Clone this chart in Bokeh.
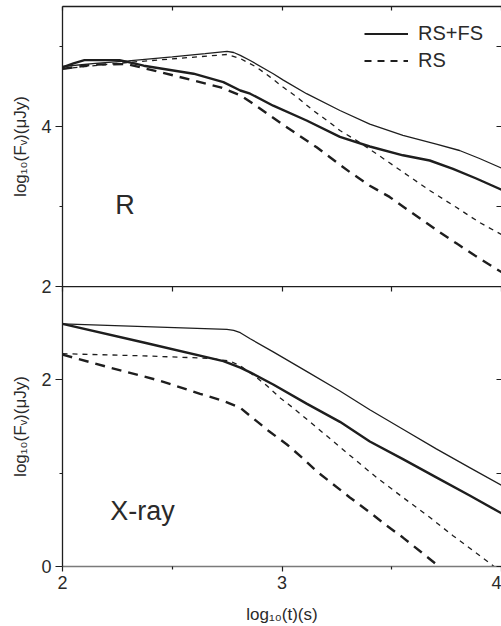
from bokeh.plotting import figure
from bokeh.models import Range1d, FixedTicker, LinearAxis, Label, Legend, LegendItem
from bokeh.layouts import column
from bokeh.embed import file_html
from bokeh.resources import INLINE

# ---------------- data ----------------
# R band, RS+FS (thin and thick solid)
r_rsfs_thin_x = [2.0, 2.15, 2.3, 2.5, 2.65, 2.75, 2.78, 2.81, 2.855, 2.96, 3.006, 3.112, 3.264, 3.4, 3.551, 3.703, 3.809, 3.9, 4.0]
r_rsfs_thin_y = [4.75, 4.79, 4.82, 4.87, 4.91, 4.94, 4.925, 4.89, 4.825, 4.66, 4.58, 4.41, 4.20, 4.03, 3.89, 3.78, 3.70, 3.60, 3.48]
r_rsfs_thick_x = [2.0, 2.05, 2.1, 2.26, 2.37, 2.597, 2.733, 2.81, 2.855, 2.96, 3.112, 3.264, 3.4, 3.551, 3.673, 3.779, 3.885, 4.0]
r_rsfs_thick_y = [4.74, 4.79, 4.83, 4.83, 4.76, 4.66, 4.555, 4.45, 4.41, 4.26, 4.075, 3.87, 3.75, 3.64, 3.575, 3.47, 3.35, 3.21]
# R band, RS only (thin and thick dashed)
r_rs_thin_x = [2.0, 2.294, 2.749, 2.81, 2.885, 2.945, 3.006, 3.067, 3.142, 3.218, 3.264, 3.34, 3.43, 3.551, 3.673, 3.794, 3.9, 4.0]
r_rs_thin_y = [4.72, 4.80, 4.90, 4.85, 4.74, 4.62, 4.49, 4.37, 4.20, 4.05, 3.95, 3.825, 3.66, 3.43, 3.20, 2.99, 2.80, 2.65]
r_rs_thick_x = [2.0, 2.14, 2.294, 2.445, 2.597, 2.72, 2.81, 2.855, 3.006, 3.158, 3.309, 3.4, 3.49, 3.567, 3.643, 3.718, 3.8, 3.877, 3.953, 4.0]
r_rs_thick_y = [4.72, 4.775, 4.78, 4.68, 4.575, 4.49, 4.39, 4.31, 4.02, 3.74, 3.43, 3.26, 3.12, 2.97, 2.825, 2.68, 2.53, 2.39, 2.26, 2.18]

# X-ray, RS+FS (thin and thick solid)
x_rsfs_thin_x = [2.0, 2.749, 2.78, 2.81, 2.855, 2.96, 3.112, 3.264, 3.4, 3.551, 3.703, 3.855, 4.0]
x_rsfs_thin_y = [2.60, 2.54, 2.53, 2.505, 2.44, 2.30, 2.09, 1.88, 1.68, 1.47, 1.26, 1.06, 0.87]
x_rsfs_thick_x = [2.0, 2.37, 2.733, 2.81, 2.855, 2.96, 3.112, 3.264, 3.4, 3.551, 3.703, 3.855, 4.0]
x_rsfs_thick_y = [2.60, 2.40, 2.20, 2.13, 2.08, 1.95, 1.745, 1.55, 1.34, 1.15, 0.955, 0.76, 0.57]
# X-ray, RS only (thin and thick dashed)
x_rs_thin_x = [2.0, 2.37, 2.673, 2.764, 2.81, 2.87, 2.93, 2.99, 3.05, 3.158, 3.264, 3.43, 3.551, 3.673, 3.779, 3.9, 3.966, 4.0]
x_rs_thin_y = [2.28, 2.257, 2.23, 2.20, 2.15, 2.05, 1.94, 1.81, 1.70, 1.49, 1.28, 0.955, 0.74, 0.527, 0.33, 0.118, 0.0, -0.06]
x_rs_thick_x = [2.0, 2.218, 2.445, 2.627, 2.733, 2.81, 2.862, 2.938, 3.021, 3.09, 3.158, 3.309, 3.4, 3.476, 3.551, 3.635, 3.71, 3.75]
x_rs_thick_y = [2.27, 2.13, 1.99, 1.85, 1.775, 1.70, 1.60, 1.455, 1.31, 1.17, 1.02, 0.74, 0.58, 0.44, 0.31, 0.153, 0.01, -0.06]

x_ticks = [2, 3, 4]
x_minor = [2.5, 3.5]
r_ticks = [2, 4]
r_minor = [3, 5]
xr_ticks = [0, 2]
xr_minor = [1, 3]

legend_labels = ["RS+FS", "RS"]
panel_labels = ["R", "X-ray"]
y_title = "log\u2081\u2080(F\u1d65)(\u03bcJy)"
x_title = "log\u2081\u2080(t)(s)"

# ---------------- styling ----------------
FONT = "Liberation Sans"
INK = "#1e1e1e"
TXT = "#2a2a2a"
THICK = 2.4
THIN = 1.3
NAN = float("nan")
OVERLAP = 10   # px the upper canvas reaches under the lower one (so the "2" at the seam is whole)


def style_common(ax, line_color):
    ax.major_tick_line_color = INK
    ax.minor_tick_line_color = INK
    ax.major_tick_line_width = 1.2
    ax.minor_tick_line_width = 1.2
    ax.axis_line_color = line_color
    ax.axis_line_width = 1.3


def labelled_axis(ticks, minor, t_out, m_out, title, line_color=INK, title_standoff=8):
    ax = LinearAxis(ticker=FixedTicker(ticks=ticks, minor_ticks=minor))
    style_common(ax, line_color)
    ax.major_tick_in = 0
    ax.major_tick_out = t_out
    ax.minor_tick_in = 0
    ax.minor_tick_out = m_out
    ax.major_label_text_font = FONT
    ax.major_label_text_font_size = "18px"
    ax.major_label_text_color = TXT
    ax.major_label_standoff = 4
    ax.axis_label = title
    ax.axis_label_text_font = FONT
    ax.axis_label_text_font_size = "17px"
    ax.axis_label_text_font_style = "normal"
    ax.axis_label_text_color = TXT
    ax.axis_label_standoff = title_standoff
    return ax


def mirror_axis(ticks, minor, tick_in, line_color=INK):
    # inward ticks only, no labels: every position is drawn as a (label-free) minor tick
    ax = LinearAxis(ticker=FixedTicker(ticks=[], minor_ticks=sorted(list(ticks) + list(minor))))
    style_common(ax, line_color)
    ax.major_tick_in = 0
    ax.major_tick_out = 0
    ax.minor_tick_in = tick_in
    ax.minor_tick_out = 0
    ax.major_label_standoff = 0
    return ax


def base(height, yr, top_border, bottom_border):
    p = figure(width=501, height=height, x_range=Range1d(2, 4), y_range=Range1d(*yr),
               output_backend="svg", toolbar_location=None,
               x_axis_location=None, y_axis_location=None,
               min_border=0, min_border_left=62, min_border_top=top_border,
               min_border_bottom=bottom_border)
    p.outline_line_color = None
    p.xgrid.visible = False
    p.ygrid.visible = False
    return p


# ---------------- top panel: R ----------------
top = base(286 + OVERLAP, (2, 5.5), 6, OVERLAP)
top.margin = (0, 0, -OVERLAP, 0)
top.background_fill_color = "white"
top.border_fill_color = "white"
top.add_layout(labelled_axis(r_ticks, r_minor, 7, 3, y_title), "left")
top.add_layout(mirror_axis(r_ticks, r_minor, 5, line_color=None), "right")
top.add_layout(mirror_axis(x_ticks, x_minor, 4), "above")

top.line(r_rsfs_thin_x, r_rsfs_thin_y, line_color=INK, line_width=THIN)
top.line(r_rsfs_thick_x, r_rsfs_thick_y, line_color=INK, line_width=THICK)
top.line(r_rs_thin_x, r_rs_thin_y, line_color=INK, line_width=THIN, line_dash="5 5")
top.line(r_rs_thick_x, r_rs_thick_y, line_color=INK, line_width=THICK, line_dash="10 7")

# legend proxies (no visible data)
leg_solid = top.line([NAN], [NAN], line_color=INK, line_width=2)
leg_dash = top.line([NAN], [NAN], line_color=INK, line_width=2, line_dash="7 6")
legend = Legend(items=[LegendItem(label=legend_labels[0], renderers=[leg_solid]),
                       LegendItem(label=legend_labels[1], renderers=[leg_dash])],
                location=(302, 214), padding=0, margin=0, spacing=4,
                glyph_width=44, glyph_height=23, label_height=23, label_standoff=10,
                label_text_font=FONT, label_text_font_size="20px", label_text_color=TXT,
                border_line_color=None, background_fill_alpha=0)
top.add_layout(legend, "center")

top.add_layout(Label(x=2.24, y=3.02, text=panel_labels[0], text_font=FONT,
                     text_font_size="27px", text_color=TXT, text_baseline="middle"))

# ---------------- bottom panel: X-ray ----------------
bot = base(340, (0, 3), 0, 0)
bot.background_fill_alpha = 0
bot.border_fill_alpha = 0
bot.add_layout(labelled_axis(xr_ticks, xr_minor, 7, 3, y_title), "left")
bot.add_layout(mirror_axis(xr_ticks, xr_minor, 5, line_color=None), "right")
bot.add_layout(mirror_axis(x_ticks, x_minor, 5), "above")
bot.add_layout(labelled_axis(x_ticks, x_minor, 5, 3, x_title, line_color="#7a7a7a",
                             title_standoff=13), "below")

bot.line(x_rsfs_thin_x, x_rsfs_thin_y, line_color=INK, line_width=THIN)
bot.line(x_rsfs_thick_x, x_rsfs_thick_y, line_color=INK, line_width=THICK)
bot.line(x_rs_thin_x, x_rs_thin_y, line_color=INK, line_width=THIN, line_dash="5 5")
bot.line(x_rs_thick_x, x_rs_thick_y, line_color=INK, line_width=THICK, line_dash="10 7")

bot.add_layout(Label(x=2.218, y=0.6, text=panel_labels[1], text_font=FONT,
                     text_font_size="27px", text_color=TXT, text_baseline="middle"))

layout = column(top, bot, spacing=0)
open("out.html", "w").write(file_html(layout, INLINE))
